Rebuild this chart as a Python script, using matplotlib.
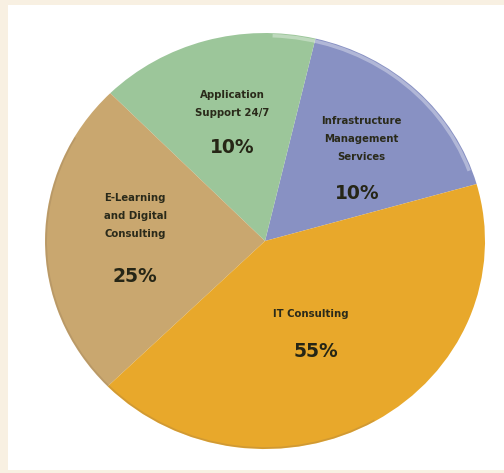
import matplotlib.pyplot as plt
from matplotlib.patches import Rectangle, Arc

# slice order: counter-clockwise from the right edge
categories = ["Infrastructure\nManagement\nServices", "Application\nSupport 24/7",
              "E-Learning\nand Digital\nConsulting", "IT Consulting"]
pct_labels = ["10%", "10%", "25%", "55%"]
# angular share as drawn in the picture (the drawing does not follow the printed %)
drawn_share = [16.9, 16.1, 24.9, 42.1]
colors = ["#8891c3", "#9cc69a", "#c9a76f", "#e8a82b"]

# where the texts sit inside each slice (axes data coords, pie radius = 1)
name_pos = [(0.44, 0.49), (-0.15, 0.66), (-0.59, 0.12), (0.21, -0.35)]
pct_pos = [(0.42, 0.23), (-0.15, 0.45), (-0.59, -0.17), (0.23, -0.53)]

fig = plt.figure(figsize=(5.04, 4.73), dpi=100)
fig.patch.set_facecolor("#f8f0e2")

bg = fig.add_axes([0, 0, 1, 1])
bg.add_patch(Rectangle((0.016, 0.006), 0.984, 0.983, facecolor="white", edgecolor="none"))
bg.set_xlim(0, 1)
bg.set_ylim(0, 1)
bg.axis("off")

ax = fig.add_axes([0.0893, 0.0507, 0.873, 0.8795])
ax.pie(drawn_share, colors=colors, startangle=15.9, counterclock=True,
       wedgeprops=dict(edgecolor="none"))
ax.set_aspect("auto")
ax.set_xlim(-1, 1)
ax.set_ylim(-1, 1)
ax.axis("off")

# soft rim shading
ax.add_patch(Arc((0, 0), 1.975, 1.975, theta1=20, theta2=88, color="white", lw=2.5, alpha=0.35))
ax.add_patch(Arc((0, 0), 1.99, 1.99, theta1=150, theta2=300, color="#8a7050", lw=1.2, alpha=0.25))

for name, (x, y) in zip(categories, name_pos):
    ax.text(x, y, name, ha="center", va="center", fontsize=7.3, fontweight="bold",
            color="#2a2a1a", linespacing=1.95)
for pct, (x, y) in zip(pct_labels, pct_pos):
    ax.text(x, y, pct, ha="center", va="center", fontsize=13.5, fontweight="bold",
            color="#262616")

plt.savefig("out.png", dpi=100)
